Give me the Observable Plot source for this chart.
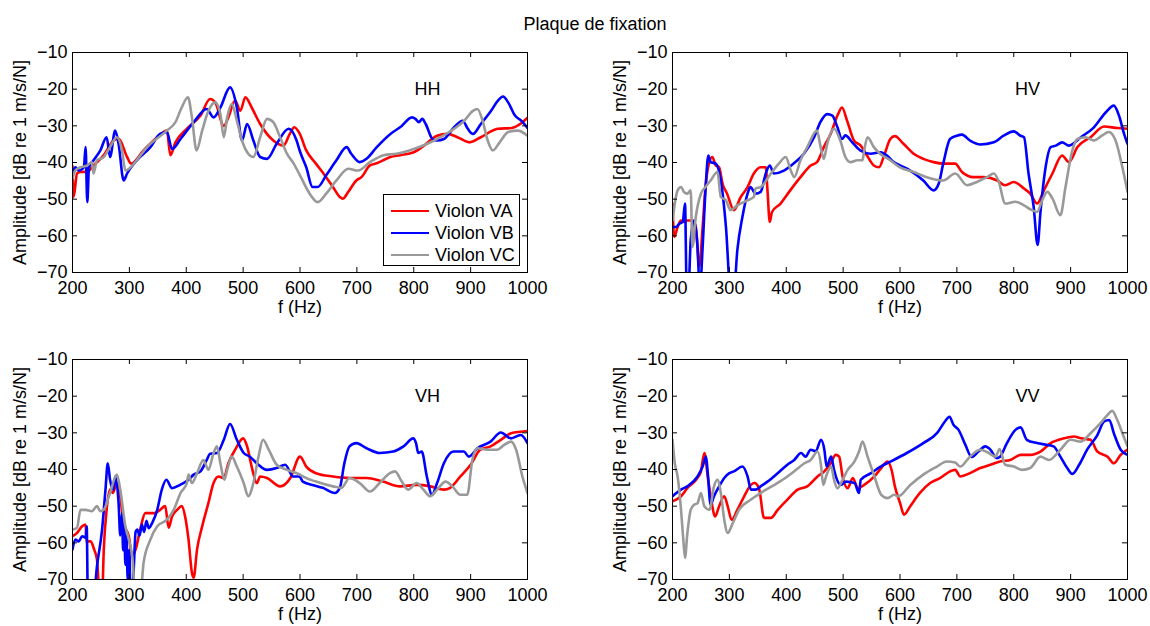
<!DOCTYPE html>
<html>
<head>
<meta charset="utf-8">
<script src="https://cdn.jsdelivr.net/npm/d3@7"></script>
<script src="https://cdn.jsdelivr.net/npm/@observablehq/plot@0.6"></script>
<style>
  html, body { margin: 0; padding: 0; background: white; }
  #fig { position: relative; width: 1150px; height: 626px; background: white; overflow: hidden;
         font-family: "Liberation Sans", Arial, Helvetica, sans-serif; }
  #title { position: absolute; left: 595px; top: 15px; transform: translateX(-50%); font-size: 18px; line-height: 18px; white-space: nowrap; color: #000; }
  .pan { position: absolute; width: 575px; height: 315px; }
  .pan svg { max-width: none !important; }
  #legend { position: absolute; left: 383px; top: 194px; width: 137px; height: 72px; border: 1px solid #000; background: #fff; box-sizing: border-box; z-index: 5; }
  .lrow { position: absolute; left: 0; height: 20px; width: 100%; font-size: 18px; line-height: 20px; white-space: nowrap; }
  .lrow .sw { position: absolute; left: 7px; top: 9px; width: 38px; height: 0; border-top: 2.6px solid; }
  .lrow .lt { position: absolute; left: 51px; top: 0; }
</style>
</head>
<body>
<div id="fig">
  <div id="title"></div>
  <div id="legend"></div>
</div>
<script>
// ---------- text ----------
const title = "Plaque de fixation";
const xLabel = "f (Hz)";
const yLabel = "Amplitude [dB re 1 m/s/N]";
const panelNames = ["HH", "HV", "VH", "VV"];
const violons = ["Violon VA", "Violon VB", "Violon VC"];
const xTicks = [200, 300, 400, 500, 600, 700, 800, 900, 1000];
const yTicks = [-70, -60, -50, -40, -30, -20, -10];

// ---------- data: [frequency Hz, amplitude dB] ----------
const HH_VA = [[200,-41],[202,-49.4],[208,-43],[214,-42.6],[226,-42.5],[237,-40.8],[255,-38],[272,-34],[281,-33.5],[296,-38.5],[303,-40.3],[325,-36.7],[349,-33.1],[366,-31.3],[372,-38],[381,-34.5],[401,-30.8],[425,-27.2],[442,-22.7],[451,-23.6],[466,-30],[474,-27.7],[486,-23.1],[495,-25.9],[504,-22.2],[515,-25],[530,-29.5],[553,-34],[571,-35.4],[582,-32.2],[590,-30.4],[599,-32],[611,-36.7],[628,-40.3],[646,-44],[658,-46.7],[670,-49.4],[675,-49.9],[685,-48],[699,-44.9],[708,-44],[723,-40.8],[735,-40.2],[759,-38.5],[776,-38],[800,-37.2],[818,-35.4],[841,-32.7],[859,-32.2],[877,-33.1],[898,-34.5],[918,-33.1],[948,-30.8],[972,-30.6],[989,-29.3],[1000,-27.8]];
const HH_VB = [[200,-43],[205,-41.3],[211,-42.2],[220,-41.3],[223,-35.8],[226,-50.8],[229,-41.3],[237,-39.4],[249,-36.7],[260,-33.1],[266,-38.5],[275,-31.3],[281,-34.9],[290,-44.9],[296,-43],[313,-39.4],[337,-35.8],[354,-32.2],[366,-31.7],[375,-36.3],[390,-33.6],[413,-29],[436,-25.4],[448,-27.7],[460,-25],[477,-19.5],[489,-25],[498,-34],[507,-29.5],[518,-34],[530,-38.5],[542,-39],[559,-34.9],[580,-30.8],[594,-34],[600,-37],[611,-41.3],[622,-46.7],[631,-46.7],[646,-43.5],[664,-39.4],[682,-35.8],[690,-37.6],[705,-39.9],[717,-39],[735,-35.8],[759,-32.2],[776,-30.4],[797,-27.7],[803,-28.1],[809,-29],[815,-28.1],[821,-29.5],[833,-33.6],[841,-34],[853,-33.6],[871,-30.4],[886,-28.6],[895,-30.8],[904,-32.2],[918,-29.5],[936,-25.9],[948,-23.1],[957,-22],[966,-23.6],[978,-27.2],[989,-28.6],[1000,-30.6]];
const HH_VC = [[200,-44.4],[205,-42.2],[214,-41.3],[226,-40.8],[234,-39.9],[237,-43],[243,-39.4],[255,-38.5],[266,-35.8],[278,-33.1],[287,-36.7],[293,-42.2],[308,-40.3],[331,-35.8],[366,-31.3],[381,-29],[392,-25],[403,-22.2],[410,-27.7],[418,-36.7],[428,-31.3],[439,-25.9],[451,-23.6],[460,-26.8],[466,-33.1],[472,-27.7],[480,-24],[489,-28.6],[498,-34],[509,-37.6],[518,-38.5],[530,-33.1],[542,-28.1],[553,-29],[565,-33.1],[577,-37.6],[589,-40.3],[600,-43.5],[617,-48.5],[631,-50.8],[646,-48.5],[664,-44.9],[685,-41.7],[702,-42.2],[723,-39.9],[747,-38],[770,-37.6],[800,-36.3],[824,-34.9],[847,-33.1],[871,-30.8],[889,-28.6],[904,-25.9],[912,-25.4],[921,-28.6],[930,-34],[939,-36.7],[951,-34.5],[966,-31.7],[983,-31.3],[1000,-32.7]];

const HV_VA = [[200,-51.2],[203,-60.3],[209,-57.6],[215,-55.8],[220,-56.2],[226,-55.8],[235,-55.8],[241,-57.6],[247,-68.4],[253,-57.6],[258,-46.7],[264,-40.3],[270,-38.5],[276,-40.8],[282,-41.3],[288,-45.8],[296,-48.5],[308,-53],[320,-49.4],[332,-46.7],[343,-43],[355,-41.3],[364,-41.3],[367,-47.6],[371,-56.2],[375,-53.5],[390,-51.2],[407,-47.6],[425,-44],[443,-40.8],[454,-39.9],[466,-35.8],[478,-32.2],[490,-27.2],[498,-25],[507,-28.6],[519,-34],[531,-35.4],[542,-38.1],[554,-40.8],[563,-41.3],[572,-38.1],[583,-33.6],[591,-32.8],[606,-34.9],[624,-37.6],[641,-39],[659,-39.9],[676,-40.3],[697,-40.3],[709,-42.6],[729,-44],[747,-44],[771,-44.9],[785,-46.2],[800,-45.3],[818,-47.1],[829,-48.5],[841,-51.2],[853,-47.6],[868,-43],[885,-38.1],[897,-39.9],[912,-35.8],[935,-33.1],[959,-30.2],[982,-30.6],[1000,-30.8]];
const HV_VB = [[200,-57.6],[206,-57.6],[212,-56.7],[218,-56.2],[222,-51.2],[225,-75],[228,-75],[232,-61.2],[238,-55.8],[244,-63],[248,-75],[253,-63],[258,-47.6],[263,-38.1],[267,-39.9],[276,-40.3],[285,-44.9],[294,-57.6],[302,-75],[308,-75],[314,-63.9],[323,-54.8],[332,-48.5],[337,-46.7],[346,-48.5],[355,-48],[364,-43],[371,-40.8],[378,-43],[396,-42.2],[413,-40.3],[431,-37.6],[449,-33.1],[460,-29],[472,-26.8],[481,-27.2],[490,-30.4],[498,-33.6],[504,-32.6],[516,-34.5],[530,-36.7],[548,-37.6],[566,-37.2],[577,-38.1],[589,-39.9],[600,-40.8],[618,-42.2],[641,-44.9],[659,-47.6],[668,-45.8],[676,-40.3],[688,-33.6],[700,-32.7],[709,-32.4],[723,-34],[741,-35.1],[765,-34.5],[782,-32.7],[800,-31.5],[812,-32.7],[818,-33.1],[826,-43],[835,-52.1],[842,-62.5],[847,-53.5],[856,-41.3],[865,-35.8],[874,-35.4],[885,-34.5],[897,-35.4],[918,-33.1],[941,-30.4],[962,-26.3],[976,-24.5],[985,-27.2],[994,-32.2],[1000,-34.9]];
const HV_VC = [[200,-55.8],[206,-49.4],[209,-47.6],[215,-46.7],[220,-48],[226,-48.5],[232,-47.6],[235,-63],[241,-54.8],[250,-48.5],[258,-46.7],[267,-44.9],[279,-42.6],[285,-49.4],[294,-50.3],[302,-53],[314,-51.7],[332,-50.3],[343,-49.4],[346,-47.1],[355,-46.7],[373,-43],[387,-40.3],[399,-38.5],[408,-42.2],[414,-44],[425,-39.4],[437,-35.8],[454,-31.3],[460,-35.4],[466,-39],[472,-34.9],[484,-30.8],[495,-34],[504,-38.5],[513,-39.9],[525,-39.4],[534,-39.4],[537,-36.7],[543,-33.1],[554,-35.8],[565,-37.6],[583,-39.4],[600,-41.3],[624,-42.6],[647,-44],[676,-44.9],[697,-43],[718,-46.2],[735,-45.3],[753,-44],[765,-43],[773,-44.9],[785,-51.2],[803,-50.7],[818,-51.7],[832,-53],[841,-53.5],[850,-50.3],[859,-48],[868,-49.8],[882,-54.4],[891,-46.7],[903,-36.7],[912,-33.6],[926,-33.1],[941,-34],[955,-32.7],[967,-31.7],[979,-34],[991,-41.3],[1000,-48]];

const VH_VA = [[200,-58.2],[208,-57.3],[217,-55.5],[223,-55],[225,-60],[227,-59.6],[232,-59.6],[238,-61.8],[243,-64.5],[248,-75],[252,-75],[255,-61.8],[260,-51],[266,-45.5],[271,-46.4],[278,-43.7],[283,-46.4],[290,-54.6],[299,-58.2],[305,-63.6],[311,-61.8],[319,-56.4],[328,-51.9],[337,-51.9],[345,-51.9],[354,-51],[363,-50],[369,-55.9],[375,-52.8],[384,-51],[392,-50],[398,-52.8],[404,-59.1],[410,-68.2],[413,-69.5],[419,-61.8],[428,-55.5],[439,-49.1],[448,-43.7],[457,-41.9],[466,-42.3],[474,-38.3],[486,-34.6],[500,-31.5],[507,-33.7],[515,-39.2],[524,-43.7],[530,-41.9],[542,-42.3],[565,-44.6],[583,-42.3],[600,-36.5],[611,-39.2],[628,-41],[658,-41.9],[687,-42.3],[717,-42.3],[746,-43.3],[776,-44.6],[805,-44.2],[829,-44.6],[853,-45.5],[864,-45],[882,-41.9],[900,-38.7],[917,-34.6],[935,-33.7],[953,-31.9],[971,-30.1],[988,-29.7],[1000,-29.5]];
const VH_VB = [[200,-61.8],[205,-59.1],[211,-59.6],[217,-58.2],[223,-58.6],[225,-55.5],[227,-75],[237,-75],[243,-66.4],[252,-56.4],[258,-45.5],[262,-38.3],[266,-42.8],[272,-45.5],[275,-41.9],[281,-49.1],[284,-58],[287,-52],[289,-62],[291,-55],[293,-66],[295,-58],[297,-70],[300,-62],[302,-75],[305,-75],[308,-66],[311,-57],[314,-56.4],[318,-58],[322,-55],[326,-57],[330,-54],[334,-56],[340,-54.6],[349,-51],[357,-45.5],[365,-42.8],[375,-45.1],[389,-44.2],[404,-42.8],[413,-41.4],[425,-40.5],[436,-37.4],[442,-35.7],[454,-35.5],[466,-31.9],[477,-27.6],[489,-31.9],[501,-35.5],[512,-36.5],[524,-38.3],[542,-40.1],[559,-39.6],[574,-38.7],[588,-41.9],[599,-41.9],[605,-43.3],[622,-44.2],[640,-45],[661,-46.4],[670,-45],[678,-38.3],[687,-33.7],[699,-32.8],[717,-34.2],[740,-35.5],[764,-35.1],[782,-33.7],[799,-31.5],[804,-32.8],[808,-35.5],[814,-35.1],[823,-41.9],[832,-46.9],[841,-43.7],[853,-38.3],[870,-35.1],[888,-35.1],[897,-36.5],[912,-34.2],[935,-32.4],[953,-29.9],[971,-31.5],[988,-30.6],[1000,-32.8]];
const VH_VC = [[200,-56.4],[208,-55.9],[214,-51],[223,-51],[234,-51.4],[243,-50],[249,-51.4],[255,-51],[266,-46.4],[278,-41.4],[284,-45.5],[293,-55.5],[299,-59.1],[305,-63.6],[311,-75],[319,-75],[325,-65.4],[337,-59.1],[349,-55.5],[366,-53.7],[378,-51],[390,-46.4],[401,-43.7],[404,-41.4],[410,-43.7],[419,-41],[430,-37.4],[439,-40.1],[448,-35.5],[454,-33.7],[460,-38.3],[467,-42.8],[472,-40.1],[480,-36.5],[489,-39.2],[501,-43.7],[509,-47.3],[518,-43.7],[527,-36.5],[535,-31.9],[545,-34.6],[559,-38.7],[577,-40.1],[600,-41.4],[605,-41.9],[628,-43.3],[658,-44.6],[673,-45],[687,-42.3],[705,-43.7],[723,-46],[740,-43.7],[758,-41],[767,-40.5],[779,-43.3],[790,-45.5],[805,-43.7],[817,-45.5],[829,-47.3],[841,-45.5],[856,-43.3],[868,-44.6],[882,-46.9],[894,-46.9],[903,-37.4],[912,-34.2],[929,-34.6],[947,-34.6],[959,-33.3],[971,-32.4],[980,-34.6],[991,-41.9],[1000,-46.4]];

const VV_VA = [[200,-48.7],[215,-47.3],[226,-45.1],[244,-42.3],[250,-40.5],[256,-35.5],[262,-41.9],[268,-48.2],[275,-52.8],[282,-50],[291,-47.3],[297,-50],[304,-53.7],[314,-51],[326,-47.3],[338,-44.2],[344,-43.7],[352,-45.1],[361,-53.2],[373,-53.2],[385,-51],[402,-48.2],[420,-45.5],[437,-44.6],[455,-41.9],[467,-40.5],[478,-38.3],[487,-36],[493,-36.5],[499,-41.9],[508,-45.1],[517,-42.3],[526,-45.1],[537,-44.2],[555,-41.9],[567,-39.6],[578,-37.8],[585,-40],[591,-44.6],[600,-49.1],[607,-52.3],[618,-50],[635,-46.4],[653,-43.7],[671,-42.3],[688,-40.5],[697,-40.1],[706,-41.9],[723,-41],[741,-39.6],[759,-38.7],[776,-37.8],[794,-37.4],[812,-36],[829,-36],[847,-35.1],[865,-32.8],[888,-31.5],[906,-31],[918,-31.5],[935,-31.9],[947,-35.1],[965,-36.5],[976,-38.3],[988,-36],[1000,-34.6]];
const VV_VB = [[200,-47.3],[215,-45.5],[226,-44.6],[244,-41.9],[253,-39.2],[259,-36.5],[262,-41],[267,-49.6],[273,-47.3],[282,-44.6],[291,-42.3],[300,-41],[308,-40.5],[323,-39.2],[332,-41.9],[338,-45.5],[346,-45.5],[355,-44.6],[367,-43.3],[385,-41],[402,-38.7],[414,-37.4],[426,-35.5],[434,-36.5],[443,-34.6],[452,-35],[461,-31.9],[467,-34.6],[471,-39.2],[479,-36.5],[484,-40.1],[496,-44.2],[505,-43.3],[520,-43.7],[528,-46.4],[531,-42.8],[549,-41],[566,-39.2],[584,-37.8],[612,-35.5],[641,-32.8],[665,-30.1],[679,-26.9],[687,-25.6],[694,-27.8],[703,-29.2],[715,-33.3],[726,-36.6],[738,-35.1],[750,-33.7],[759,-34.6],[770,-36.9],[776,-36.5],[788,-32.8],[803,-29.2],[812,-28.5],[823,-31.9],[841,-32.8],[859,-33.3],[870,-33.7],[882,-36.5],[894,-39.6],[903,-41.2],[915,-38.7],[929,-34.6],[947,-30.6],[959,-26.9],[968,-26.5],[976,-30.1],[988,-34.6],[1000,-36]];
const VV_VC = [[200,-31.9],[204,-38.3],[209,-41.9],[215,-51],[219,-59.1],[222,-64.1],[226,-57.6],[232,-51],[238,-49.6],[244,-49.2],[250,-46.4],[256,-50],[265,-51],[273,-44.6],[279,-42.8],[285,-46.4],[291,-53.7],[297,-57.3],[306,-54.6],[317,-51],[338,-48.2],[355,-46.4],[379,-44.2],[402,-41.9],[414,-40.5],[432,-38.3],[443,-37.4],[455,-35.1],[461,-38.7],[465,-44.2],[470,-41.9],[479,-39.2],[484,-42.8],[490,-45.1],[499,-42.8],[508,-40.1],[520,-37.8],[528,-35.1],[534,-32.4],[543,-36.5],[555,-41.9],[567,-46.9],[578,-47.8],[590,-46.9],[597,-47.3],[618,-44.2],[641,-41.4],[665,-39.2],[682,-37.8],[697,-38.1],[706,-39.2],[723,-36.5],[741,-34.6],[756,-35.5],[768,-36.5],[775,-34.4],[785,-38.7],[800,-39.2],[815,-40.1],[829,-39.6],[847,-36.5],[862,-37.4],[882,-34.6],[900,-31.9],[918,-32.4],[935,-30.1],[953,-27.3],[965,-25.1],[973,-24],[982,-26.5],[991,-30.1],[1000,-33.7]];

const panelData = {
  HH: [HH_VA, HH_VB, HH_VC],
  HV: [HV_VA, HV_VB, HV_VC],
  VH: [VH_VA, VH_VB, VH_VC],
  VV: [VV_VA, VV_VB, VV_VC]
};

// ---------- styling ----------
const lineColors = ["#ff0000", "#0000ff", "#999999"];
const FONT = "'Liberation Sans', Arial, Helvetica, sans-serif";
const positions = [[0, 0], [600, 0], [0, 307], [600, 307]];
const W = 575, H = 315, ML = 72, MR = 48, MT = 52, MB = 43;
const plotH = H - MT - MB, plotW = W - ML - MR, TICK = 5;
const fmt = d => (d < 0 ? "\u2212" + Math.abs(d) : String(d));

document.getElementById("title").textContent = title;

function makePanel(name) {
  const rows = panelData[name].flatMap((arr, i) => arr.map(([f, a]) => ({f, a, s: violons[i]})));
  return Plot.plot({
    width: W, height: H,
    marginLeft: ML, marginRight: MR, marginTop: MT, marginBottom: MB,
    style: {fontFamily: FONT, fontSize: "18px", background: "transparent", overflow: "visible", color: "#000", maxWidth: "none"},
    x: {domain: [200, 1000], label: null},
    y: {domain: [-70, -10], label: null},
    color: {domain: violons, range: lineColors},
    marks: [
      Plot.line(rows, {x: "f", y: "a", z: "s", stroke: "s", strokeWidth: 2.6, curve: "monotone-x", clip: true, strokeLinejoin: "round"}),
      // inward ticks on all four sides
      Plot.ruleX(xTicks, {x: d => d, insetTop: plotH - TICK, stroke: "#000"}),
      Plot.ruleX(xTicks, {x: d => d, insetBottom: plotH - TICK, stroke: "#000"}),
      Plot.ruleY(yTicks, {y: d => d, insetRight: plotW - TICK, stroke: "#000"}),
      Plot.ruleY(yTicks, {y: d => d, insetLeft: plotW - TICK, stroke: "#000"}),
      Plot.frame({stroke: "#000", strokeWidth: 1}),
      Plot.axisX(xTicks, {anchor: "bottom", tickSize: 0, tickPadding: 9, tickFormat: fmt, label: null}),
      Plot.axisY(yTicks, {anchor: "left", tickSize: 0, tickPadding: 5, tickFormat: fmt, label: null}),
      Plot.text([name], {frameAnchor: "top-right", dx: -100, dy: 37, textAnchor: "middle", lineAnchor: "middle", fill: "#000"}),
      Plot.text([xLabel], {frameAnchor: "bottom", dy: 35, textAnchor: "middle", lineAnchor: "middle", fill: "#000"}),
      Plot.text([yLabel], {frameAnchor: "left", rotate: -90, dx: -52, textAnchor: "middle", lineAnchor: "middle", fill: "#000"})
    ]
  });
}

const fig = document.getElementById("fig");
panelNames.forEach((name, i) => {
  const svg = makePanel(name);
  const wrap = document.createElement("div");
  wrap.className = "pan";
  wrap.style.left = positions[i][0] + "px";
  wrap.style.top = positions[i][1] + "px";
  wrap.appendChild(svg);
  fig.appendChild(wrap);
});

// legend
const legend = document.getElementById("legend");
violons.forEach((v, i) => {
  const row = document.createElement("div");
  row.className = "lrow";
  row.style.top = (6 + i * 22) + "px";
  row.innerHTML = `<div class="sw" style="border-color:${lineColors[i]}"></div><div class="lt">${v}</div>`;
  legend.appendChild(row);
});
fig.appendChild(legend);
</script>
</body>
</html>
